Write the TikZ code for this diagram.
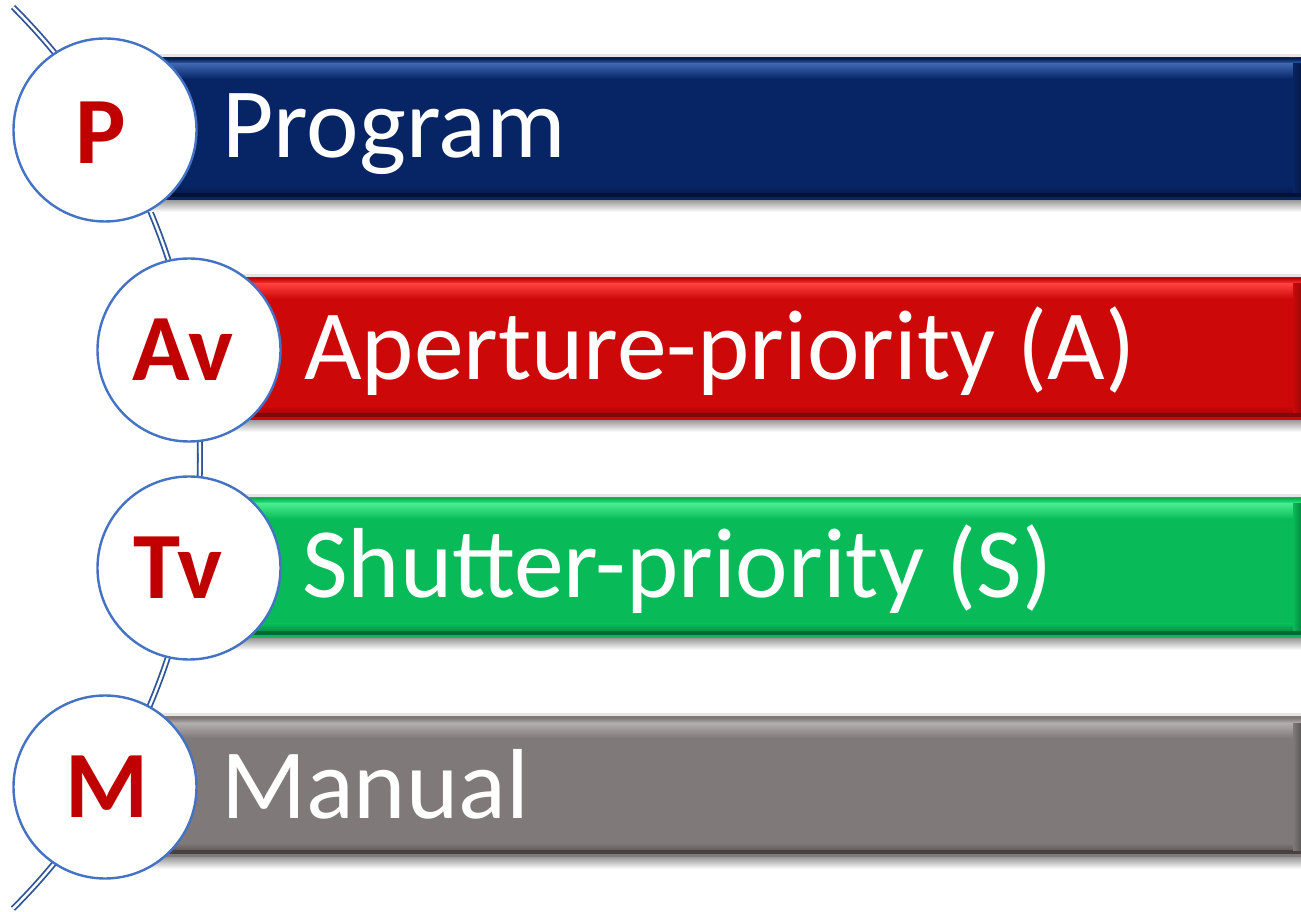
\documentclass[tikz,border=0pt]{standalone}
\usepackage{fontspec}
\setmainfont{Carlito}
\definecolor{bluemain}{RGB}{7,37,100}
\definecolor{bluelight}{RGB}{60,100,175}
\definecolor{bluedark}{RGB}{3,18,50}
\definecolor{redmain}{RGB}{204,8,8}
\definecolor{redlight}{RGB}{255,62,62}
\definecolor{reddark}{RGB}{125,10,10}
\definecolor{greenmain}{RGB}{8,187,88}
\definecolor{greenlight}{RGB}{70,235,140}
\definecolor{greendark}{RGB}{5,105,50}
\definecolor{graymain}{RGB}{127,121,121}
\definecolor{graylight}{RGB}{180,175,175}
\definecolor{graydark}{RGB}{70,66,66}
\definecolor{lettercol}{RGB}{192,0,0}
\definecolor{circlecol}{RGB}{68,114,196}
\definecolor{arccol}{RGB}{47,85,151}
% top, bottom, left, main, light, dark
\newcommand{\modebar}[6]{%
  \shade[top color=black!40, bottom color=white] (#3,#2-12) rectangle (1301,#2);
  \fill[black!10] (#3,#1) rectangle (1301,#1+3);
  \fill[#4] (#3,#2) rectangle (1301,#1);
  \shade[top color=#4, bottom color=#5] (#3,#1-7) rectangle (1301,#1-2);
  \shade[top color=#5, bottom color=#4] (#3,#1-22) rectangle (1301,#1-7);
  \shade[top color=#4, bottom color=#6!50!#4] (#3,#2+14) rectangle (1301,#2+7);
  \fill[#6] (#3,#2+3) rectangle (1301,#2+7);
  \shade[left color=#4, right color=#6!60!#4] (1293,#2+7) rectangle (1301,#1-7);
}
\tikzset{
  modecircle/.style={circle, draw=circlecol, line width=2.4pt, fill=white,
    minimum size=183pt, inner sep=0pt},
  modeletter/.style={text=lettercol, font=\fontsize{95}{100}\selectfont\bfseries,
    inner sep=0pt},
  bartext/.style={text=white, font=\fontsize{99.5}{104}\selectfont,
    inner sep=0pt, anchor=base west},
  arcline/.style={draw=arccol, double=white, line width=1.8pt, double distance=2.4pt}
}
\begin{document}
\begin{tikzpicture}[x=1pt,y=1pt]
\useasboundingbox (0,0) rectangle (1301,911);
% arc
\coordinate (arcstart) at (13,904);
\draw[arcline] (arcstart) arc[start angle=45.05, end angle=-45.05, radius=637pt] coordinate (arcend);
% bars
\modebar{854}{711}{105}{bluemain}{bluelight}{bluedark}
\modebar{634}{491}{189}{redmain}{redlight}{reddark}
\modebar{414}{273}{189}{greenmain}{greenlight}{greendark}
\modebar{195}{54}{105}{graymain}{graylight}{graydark}
% bar texts
\node[bartext] (tprog) at (222,753) {Program};
\node[bartext] (tap) at (304,531) {Aperture-priority (A)};
\node[bartext] (tsh) at (302,313) {Shutter-priority (S)};
\node[bartext] (tman) at (221,93) {Manual};
% circles
\node[modecircle] (cp) at (105,781) {};
\node[modecircle] (cav) at (189,561) {};
\node[modecircle] (ctv) at (189,343) {};
\node[modecircle] (cm) at (105,124) {};
\node[modeletter, xshift=-4pt, yshift=-3pt] (lp) at (cp) {P};
\node[modeletter, xshift=-6pt] (lav) at (cav) {Av};
\node[modeletter, xshift=-11pt] (ltv) at (ctv) {Tv};
\node[modeletter, xshift=2pt] (lm) at (cm) {M};
\end{tikzpicture}
\end{document}
